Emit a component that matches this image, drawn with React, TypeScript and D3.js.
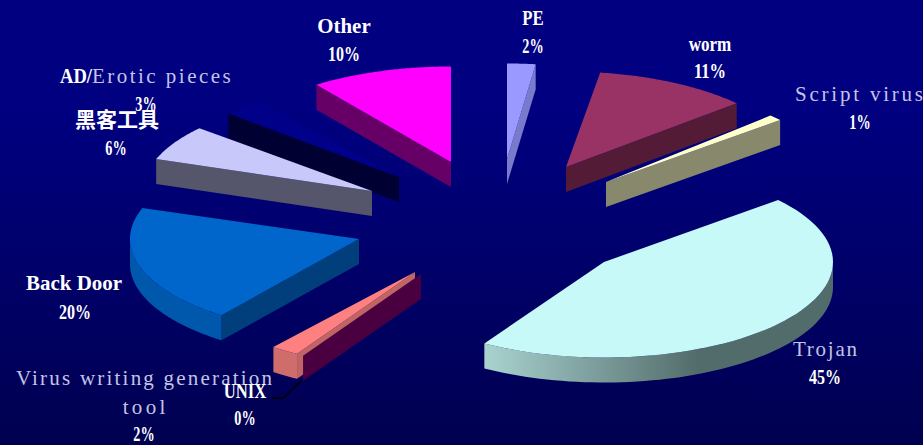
import React from "react";
import * as d3 from "d3";

// Virus categories, clockwise from the upper right of the pie.
const categories = ["Trojan", "UNIX", "Virus writing generation tool", "Back Door", "黑客工具", "AD/Erotic pieces", "Other", "PE", "worm", "Script virus"];
const shares = [45, 0, 2, 20, 6, 3, 10, 2, 11, 1];

const topColors = ["#c6f9f8", "#4a0040", "#ff8080", "#0066cc", "#c8c8fa", "#000088", "#ff00ff", "#9999ff", "#993366", "#ffffcc"];
const edgeColors = ["#526b6b", "#4a0040", "#c06464", "#003f7c", "#55556b", "#000033", "#660066", "#7a7acc", "#541b37", "#88886c"];
const rimStops: [string, string][] = [
  ["#a8d2ce", "#526b6b"],
  ["#4a0040", "#4a0040"],
  ["#cf6c6c", "#c86868"],
  ["#0058ac", "#005cac"],
  ["#55556b", "#55556b"],
  ["#000033", "#000033"],
  ["#660066", "#660066"],
  ["#7a7acc", "#7a7acc"],
  ["#541b37", "#541b37"],
  ["#88886c", "#88886c"],
];

// Where each exploded slice's tip sits, and the small per-slice turn of the tilted view.
const tips: [number, number][] = [[604, 262], [421, 274], [415, 272], [359, 239], [372, 191], [399, 177], [451, 162], [507, 159], [566, 167], [606, 182]];
const turns = [0.5, 0, 0, -1.3, -0.7, 0, 1.4, 1.4, 2.8, 0.5];

const W = 923;
const H = 445;
const RX = 229;
const RY = 95.5;
const DEPTH = 25;
const CHAR = 10.67;

type Run = { text: string; x: number; y: number; anchor?: "start" | "middle"; soft?: boolean; cjk?: boolean };

const labelRuns: Run[] = [
  { text: "Other", x: 344, y: 33 },
  { text: "10%", x: 344, y: 61 },
  { text: "AD/", x: 60, y: 83, anchor: "start" },
  { text: "Erotic pieces", x: 92, y: 83, anchor: "start", soft: true },
  { text: "3%", x: 146, y: 111 },
  { text: "黑客工具", x: 117, y: 127, cjk: true },
  { text: "6%", x: 116, y: 155 },
  { text: "PE", x: 533, y: 25 },
  { text: "2%", x: 533, y: 53 },
  { text: "worm", x: 710, y: 51 },
  { text: "11%", x: 710, y: 78 },
  { text: "Script virus", x: 859, y: 101, soft: true },
  { text: "1%", x: 860, y: 129 },
  { text: "Back Door", x: 74, y: 290 },
  { text: "20%", x: 75, y: 319 },
  { text: "Virus writing generation", x: 144, y: 385, soft: true },
  { text: "tool", x: 144, y: 414, soft: true },
  { text: "2%", x: 144, y: 441 },
  { text: "UNIX", x: 245, y: 398 },
  { text: "0%", x: 245, y: 425 },
  { text: "Trojan", x: 825, y: 356, soft: true },
  { text: "45%", x: 825, y: 384 },
];

const leaderPoints: [number, number][] = [[272, 398], [283, 398], [302, 380]];

const rad = (deg: number) => (deg * Math.PI) / 180;
const line = d3.line<[number, number]>();

const pie = d3
  .pie<number>()
  .sort(null)
  .startAngle(rad(49))
  .endAngle(rad(49 + 360));

export default function App() {
  const arcs = pie(shares);

  const slices = arcs
    .map((a, i) => {
      const [cx, cy] = tips[i];
      const turn = rad(turns[i]);
      const a0 = a.startAngle + turn;
      const a1 = a.endAngle + turn;
      const at = (t: number, drop = 0): [number, number] => [cx + RX * Math.sin(t), cy - RY * Math.cos(t) + drop];
      const sweep = (from: number, to: number, drop = 0) =>
        d3.range(0, 65).map((k) => at(from + ((to - from) * k) / 64, drop));

      const top = line([[cx, cy], ...sweep(a0, a1)]) + "Z";

      // The radial wall faces the viewer only when its outward normal points down the screen.
      const startWall = Math.sin(a0) < 0;
      const edgeAngle = startWall ? a0 : a1;
      const showEdge = startWall || Math.sin(a1) > 0;
      const edge = line([[cx, cy], at(edgeAngle), at(edgeAngle, DEPTH), [cx, cy + DEPTH]]) + "Z";

      // The outer rim is visible on the lower half of the ellipse.
      const spans: [number, number][] = [];
      for (let lo = Math.PI / 2; lo < a1; lo += 2 * Math.PI) {
        const s = Math.max(a0, lo);
        const e = Math.min(a1, lo + Math.PI);
        if (e > s) spans.push([s, e]);
      }
      const rims = spans.map(([s, e]) => line([...sweep(s, e), ...sweep(e, s, DEPTH)]) + "Z");

      return { i, cy, top, edge, showEdge, rims, span: a1 - a0 };
    })
    .sort((p, q) => d3.ascending(p.cy, q.cy));

  return (
    <svg
      width={W}
      height={H}
      viewBox={`0 0 ${W} ${H}`}
      style={{ position: "absolute", left: 0, top: 0, display: "block" }}
    >
      <defs>
        <linearGradient id="backdrop" x1="0" y1="0" x2="0" y2="1">
          <stop offset="0" stopColor="#000080" />
          <stop offset="0.25" stopColor="#000080" />
          <stop offset="1" stopColor="#000050" />
        </linearGradient>
        {rimStops.map(([from, to], i) => (
          <linearGradient key={i} id={`rim-${i}`} gradientUnits="userSpaceOnUse" x1={tips[i][0] - 117} y1="0" x2={tips[i][0] + 95} y2="0">
            <stop offset="0" stopColor={from} />
            <stop offset="1" stopColor={to} />
          </linearGradient>
        ))}
      </defs>
      <rect width={W} height={H} fill="url(#backdrop)" />

      {slices.map((s) => (
        <g key={categories[s.i]}>
          {s.showEdge && <path d={s.edge} fill={edgeColors[s.i]} />}
          {s.rims.map((d, k) => (
            <path key={k} d={d} fill={s.i === 3 ? rimStops[3][0] : `url(#rim-${s.i})`} />
          ))}
          {s.span > 0 && <path d={s.top} fill={topColors[s.i]} />}
        </g>
      ))}

      <path d={line(leaderPoints) ?? ""} fill="none" stroke="#000000" strokeWidth={1.5} />

      {labelRuns.map((r, i) => {
        const width = r.text.length * CHAR;
        return (
          <text
            key={i}
            x={r.x}
            y={r.y}
            textAnchor={r.anchor ?? "middle"}
            fill={r.soft ? "#c4c4e6" : "#ffffff"}
            fontFamily={r.cjk ? "'Noto Sans CJK SC'" : "'Liberation Serif'"}
            fontSize={21}
            fontWeight={r.soft ? 400 : 700}
            {...(r.cjk ? {} : { textLength: width, lengthAdjust: r.soft ? "spacing" : "spacingAndGlyphs" })}
          >
            {r.text}
          </text>
        );
      })}
    </svg>
  );
}
